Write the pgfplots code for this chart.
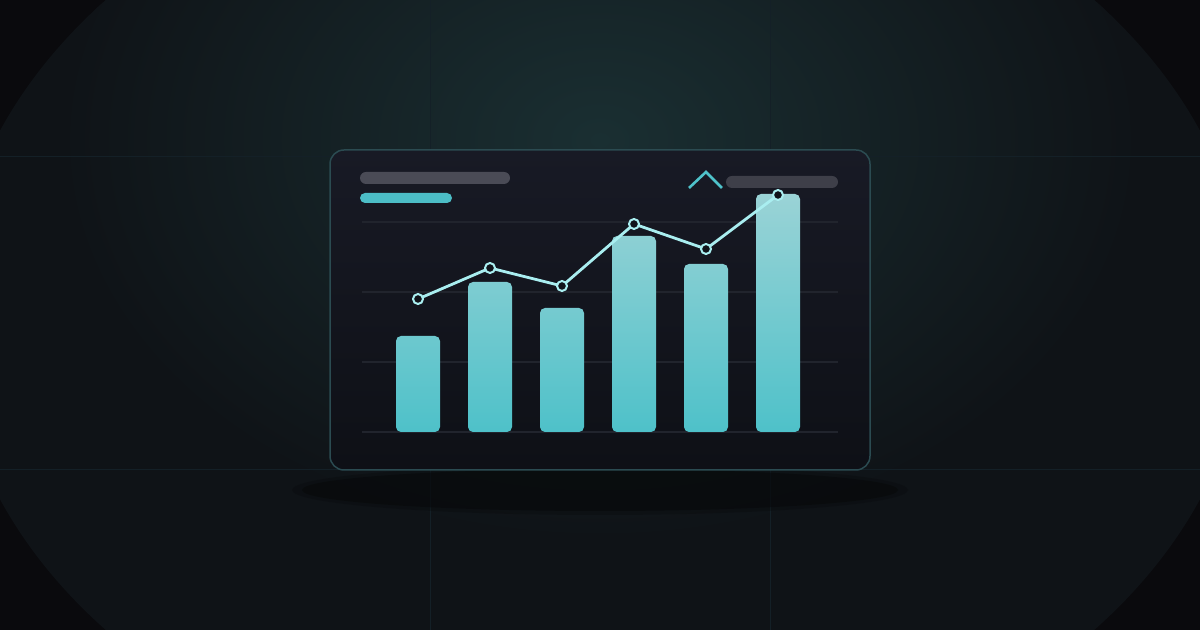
\documentclass[border=0pt]{standalone}
\usepackage{pgfplots}
\pgfplotsset{compat=1.18}
\definecolor{bgdark}{HTML}{0A0A0D}
\definecolor{bgmid}{HTML}{0F1317}
\definecolor{bgglow}{HTML}{1A2F32}
\definecolor{bgline}{HTML}{142027}
\definecolor{cardtop}{HTML}{181A25}
\definecolor{cardbot}{HTML}{0E1016}
\definecolor{cardborder}{HTML}{2B4B51}
\definecolor{shadowc}{HTML}{07090A}
\definecolor{pillgray}{HTML}{4A4B56}
\definecolor{pillgray2}{HTML}{3E3F49}
\definecolor{pillteal}{HTML}{4CBDC6}
\definecolor{chev}{HTML}{4FC3CB}
\definecolor{gridc}{HTML}{21242D}
\definecolor{basec}{HTML}{3A3D46}
\definecolor{bartop}{HTML}{9AD3D6}
\definecolor{barbot}{HTML}{4EC1C9}
\definecolor{linec}{HTML}{A9EEF0}
\definecolor{markfill}{HTML}{10131A}
\begin{document}
\begin{tikzpicture}
\useasboundingbox (0,0) rectangle (600pt,315pt);
\clip (0,0) rectangle (600pt,315pt);
\begin{scope}[x=0.5pt,y=-0.5pt,yshift=315pt]
  % background
  \fill[bgdark] (0,0) rectangle (1200,630);
  \begin{scope}
    \clip (600,315) ellipse [x radius=648, y radius=487];
    \fill[bgmid] (0,0) rectangle (1200,630);
    \shade[inner color=bgglow, outer color=bgmid] (600,140) ellipse [x radius=540, y radius=400];
  \end{scope}
  % faint background grid
  \draw[bgline, line width=0.5pt] (430,0) -- (430,630);
  \draw[bgline, line width=0.5pt] (770,0) -- (770,630);
  \draw[bgline, line width=0.5pt] (0,157) -- (1200,157);
  \draw[bgline, line width=0.5pt] (0,470) -- (1200,470);
  % shadow
  \fill[shadowc, opacity=0.55] (600,490) ellipse [x radius=298, y radius=21];
  \fill[shadowc, opacity=0.3] (600,490) ellipse [x radius=308, y radius=25];
  % card
  \shade[top color=cardtop, bottom color=cardbot, rounded corners=7pt] (330,150) rectangle (870,470);
  \draw[cardborder, line width=0.75pt, rounded corners=7pt] (330,150) rectangle (870,470);
  % placeholder pills
  \fill[pillgray, rounded corners=3pt] (360,172) rectangle (510,184);
  \fill[pillteal, rounded corners=2.5pt] (360,193) rectangle (452,203);
  \fill[pillgray2, rounded corners=3pt] (726,176) rectangle (838,188);
  % chevron
  \draw[chev, line width=1.3pt] (689,188) -- (706,172) -- (722,188);
\end{scope}
\begin{axis}[
  at={(181pt,99pt)}, anchor=south west,
  scale only axis, width=238pt, height=105pt,
  xmin=362, xmax=838, ymin=0, ymax=105,
  axis line style={draw=none},
  xtick=\empty,
  ytick={35,70,105}, yticklabels={},
  major tick length=0pt,
  ymajorgrids,
  major grid style={color=gridc, line width=0.6pt},
  extra y ticks={0}, extra y tick labels={},
  extra y tick style={grid style={color=basec, line width=0.8pt}},
  clip=false,
]
\addplot[ybar, bar width=22pt, draw=none, top color=bartop, bottom color=barbot, rounded corners=2.5pt]
  coordinates {(418,48) (490,75) (562,62) (634,98) (706,84) (778,119)};
\addplot[color=linec, line width=1.4pt, mark=*, mark size=2.5pt,
  mark options={fill=markfill, draw=linec, line width=1pt}]
  coordinates {(418,66.5) (490,82) (562,73) (634,104) (706,91.5) (778,118.5)};
\end{axis}
\end{tikzpicture}
\end{document}
